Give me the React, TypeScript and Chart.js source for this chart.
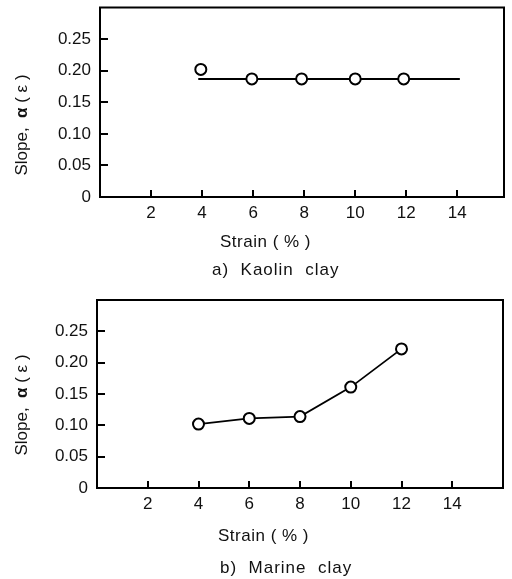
import React, { useEffect, useRef } from "react";
import { Chart, registerables } from "chart.js";

Chart.register(...registerables);

// ---- data ----
const kaolinStrain = [3.95, 5.95, 7.9, 10, 11.9];
const kaolinSlope = [0.202, 0.187, 0.187, 0.187, 0.187];
const kaolinFitStrain = [3.85, 14.1];
const kaolinFitSlope = [0.187, 0.187];

const marineStrain = [4, 6, 8, 10, 12];
const marineSlope = [0.102, 0.111, 0.114, 0.161, 0.222];

const strainTickStep = 2;
const strainTickMax = 14;
const slopeTickStep = 0.05;
const slopeMax = 0.3;

const FONT = '"Liberation Sans", Arial, sans-serif';
const INK = "#111";

const framePlugin = {
  id: "frame",
  afterDraw(chart: any) {
    const { ctx, chartArea } = chart;
    ctx.save();
    ctx.strokeStyle = "#000";
    ctx.lineWidth = 2;
    ctx.strokeRect(chartArea.left, chartArea.top, chartArea.right - chartArea.left, chartArea.bottom - chartArea.top);
    ctx.restore();
  },
};

function toPoints(xs: number[], ys: number[]) {
  return xs.map((x, i) => ({ x, y: ys[i] }));
}

function zeroPadding(s: any) {
  s.paddingTop = 0;
  s.paddingBottom = 0;
  s.paddingLeft = 0;
  s.paddingRight = 0;
}

type PanelProps = {
  top: number;
  height: number;
  padTop: number;
  padRight: number;
  yWidth: number;
  xHeight: number;
  xMax: number;
  datasets: any[];
};

function Panel({ top, height, padTop, padRight, yWidth, xHeight, xMax, datasets }: PanelProps) {
  const ref = useRef<HTMLCanvasElement | null>(null);
  useEffect(() => {
    if (!ref.current) return;
    const chart = new Chart(ref.current, {
      type: "scatter",
      data: { datasets },
      plugins: [framePlugin],
      options: {
        responsive: false,
        animation: false,
        layout: { padding: { top: padTop, right: padRight, left: 0, bottom: 0 } },
        plugins: { legend: { display: false }, tooltip: { enabled: false }, title: { display: false } },
        scales: {
          x: {
            type: "linear",
            min: 0,
            max: xMax,
            afterFit: (s: any) => {
              s.height = xHeight;
              zeroPadding(s);
            },
            afterBuildTicks: (s: any) => {
              s.ticks = s.ticks.filter((t: any) => t.value > 0 && t.value <= strainTickMax);
            },
            ticks: {
              stepSize: strainTickStep,
              includeBounds: false,
              color: INK,
              font: { family: FONT, size: 17 },
              padding: 13,
              maxRotation: 0,
              autoSkip: false,
            },
            grid: { drawOnChartArea: false, drawTicks: true, tickLength: -7, color: "#000", lineWidth: 2 },
            border: { display: true, color: "#000", width: 2 },
          },
          y: {
            type: "linear",
            min: 0,
            max: slopeMax,
            afterFit: (s: any) => {
              s.width = yWidth;
              zeroPadding(s);
            },
            afterBuildTicks: (s: any) => {
              s.ticks = s.ticks.filter((t: any) => t.value < slopeMax - 0.01);
            },
            ticks: {
              stepSize: slopeTickStep,
              includeBounds: false,
              color: INK,
              font: { family: FONT, size: 17 },
              padding: 17,
              autoSkip: false,
              callback: (v: any) => (Number(v) === 0 ? "0" : Number(v).toFixed(2)),
            },
            grid: { drawOnChartArea: false, drawTicks: true, tickLength: -8, color: "#000", lineWidth: 2 },
            border: { display: true, color: "#000", width: 2 },
          },
        },
      },
    });
    return () => chart.destroy();
  }, []);
  return (
    <canvas
      ref={ref}
      width={512}
      height={height}
      style={{ position: "absolute", left: 0, top, width: 512, height }}
    />
  );
}

const textBase: React.CSSProperties = {
  position: "absolute",
  fontFamily: FONT,
  fontSize: 17,
  lineHeight: "17px",
  color: INK,
  whiteSpace: "pre",
};

function YTitle({ cx, cy }: { cx: number; cy: number }) {
  return (
    <div
      style={{
        ...textBase,
        left: cx,
        top: cy,
        transform: "translate(-50%, -50%) rotate(-90deg)",
      }}
    >
      Slope,  <b>α</b> ( ε )
    </div>
  );
}

const pointStyle = {
  showLine: false,
  pointRadius: 5.5,
  pointBorderWidth: 2,
  pointBorderColor: "#000",
  pointBackgroundColor: "#fff",
  borderColor: "#000",
};

export default function App() {
  const kaolinSets = [
    { ...pointStyle, data: toPoints(kaolinStrain, kaolinSlope) },
    {
      data: toPoints(kaolinFitStrain, kaolinFitSlope),
      showLine: true,
      pointRadius: 0,
      borderColor: "#000",
      borderWidth: 2,
    },
  ];
  const marineSets = [
    { ...pointStyle, data: toPoints(marineStrain, marineSlope), showLine: true, borderWidth: 1.8 },
  ];
  return (
    <div style={{ position: "absolute", left: 0, top: 0, width: 512, height: 579, background: "#fff" }}>
      <Panel top={0} height={285} padTop={5} padRight={8} yWidth={100} xHeight={88} xMax={15.83} datasets={kaolinSets} />
      <Panel top={285} height={294} padTop={15} padRight={9} yWidth={97} xHeight={91} xMax={16} datasets={marineSets} />
      <YTitle cx={21} cy={125} />
      <YTitle cx={21} cy={405} />
      <div style={{ ...textBase, left: 220, top: 233, letterSpacing: 0.5 }}>Strain ( % )</div>
      <div style={{ ...textBase, left: 212, top: 261, letterSpacing: 1 }}>a)  Kaolin  clay</div>
      <div style={{ ...textBase, left: 218, top: 527, letterSpacing: 0.5 }}>Strain ( % )</div>
      <div style={{ ...textBase, left: 220, top: 559, letterSpacing: 1 }}>b)  Marine  clay</div>
    </div>
  );
}
